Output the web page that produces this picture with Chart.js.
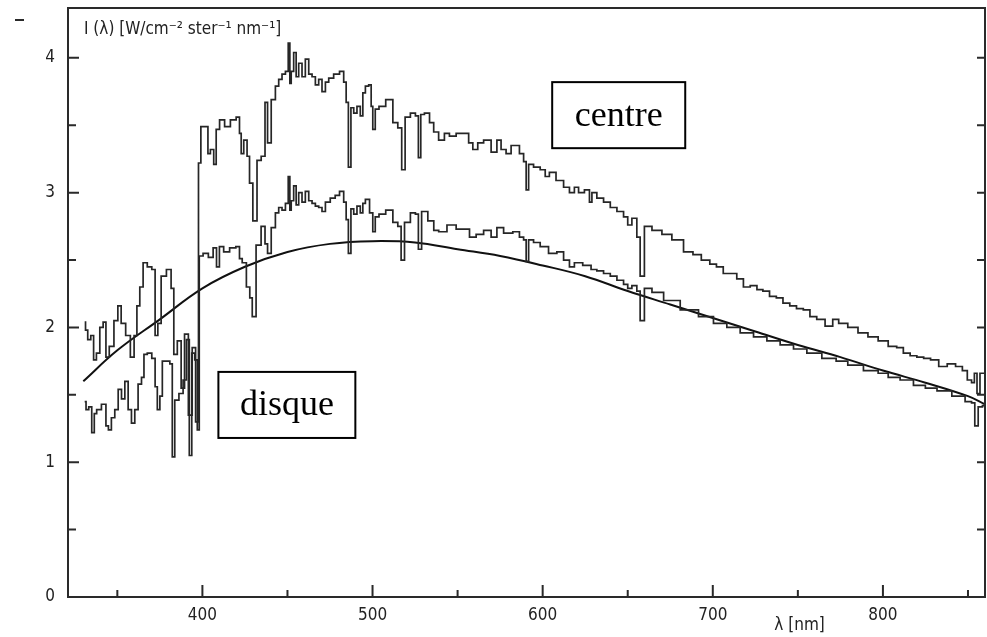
<!DOCTYPE html>
<html>
<head>
<meta charset="utf-8">
<script src="https://cdn.jsdelivr.net/npm/chart.js@4.4.1/dist/chart.umd.min.js"></script>
<style>
  html, body { margin: 0; padding: 0; background: #fff; }
  #wrap { position: relative; width: 987px; height: 637px; }
</style>
</head>
<body>
<div id="wrap"><canvas id="spectrum"></canvas></div>
<script>
// Wavelengths (nm) and intensities
const centreNm = [330.8, 331.8, 333.4, 335.4, 336.7, 338.7, 340.7, 342.6, 344.0, 346.5, 349.5, 351.1, 353.4, 356.4, 358.9, 360.8, 362.2, 364.2, 366.1, 369.1, 371.4, 373.0, 374.6, 376.9, 380.8, 382.4, 384.0, 386.5, 388.5, 390.5, 393.0, 395.0, 397.0,
  398.4, 399.8, 402.8, 403.7, 405.7, 407.6, 408.6, 411.6, 414.5, 418.4, 421.3, 422.3, 423.3, 425.3, 427.2, 428.2, 431.1, 433.1, 436.0, 437.6, 439.0, 441.9, 443.9, 445.8, 447.8, 449.8,
  451.1, 451.7, 452.7, 454.6, 455.6, 457.6, 459.5, 461.5, 463.5, 465.4, 467.4, 469.3, 471.3, 473.3, 475.2, 479.1, 482.1, 484.0, 485.0, 486.6, 488.0, 489.9, 491.8, 493.8, 494.8, 496.8, 498.7, 499.7,
  500.6, 502.6, 505.0, 510.5, 513.4, 516.3, 518.0, 520.3, 524.2, 526.2, 527.7, 529.0, 532.0, 535.0, 536.9, 540.8, 543.7, 546.7, 551.6, 555.5, 557.5, 560.4, 563.3, 567.3, 572.1, 574.1, 577.0,
  580.0, 582.9, 584.9, 587.8, 589.8, 590.8, 592.7, 596.6, 600.5, 602.5, 605.4, 610.3, 614.3, 617.2, 620.1, 622.1, 627.0, 628.0, 629.9, 633.8, 637.8, 641.7, 645.6, 649.5, 650.5, 654.4, 656.3, 658.3,
  661.3, 667.2, 673.0, 678.9, 686.7, 690.0, 696.5, 700.0, 704.3, 708.0, 712.2, 716.0, 720.0, 724.0, 727.9, 731.0, 735.7, 739.0, 743.5, 747.0, 751.4, 755.0, 759.2, 763.0, 769.0, 772.0, 776.0,
  782.7, 788.0, 794.4, 800.0, 806.2, 810.0, 814.0, 818.0, 821.9, 826.0, 830.0, 835.6, 840.0, 845.4, 848.0, 851.2, 853.0, 854.5, 856.1, 858.0, 860.0];
const centreI = [2.04, 1.98, 1.91, 1.94, 1.76, 1.81, 2.00, 2.04, 1.78, 1.86, 2.05, 2.16, 2.03, 1.94, 1.78, 1.94, 2.16, 2.30, 2.48, 2.45, 2.43, 1.94, 2.03, 2.38, 2.43, 2.29, 1.80, 1.90, 1.55, 1.95, 1.35, 1.85, 1.30,
  3.22, 3.49, 3.49, 3.29, 3.32, 3.21, 3.47, 3.54, 3.49, 3.54, 3.56, 3.44, 3.29, 3.39, 3.27, 3.07, 2.79, 3.24, 3.27, 3.67, 3.37, 3.69, 3.79, 3.84, 3.88, 3.90,
  4.11, 3.81, 3.90, 4.04, 3.86, 3.96, 3.86, 3.99, 3.88, 3.86, 3.80, 3.84, 3.75, 3.82, 3.85, 3.88, 3.90, 3.82, 3.67, 3.19, 3.63, 3.59, 3.64, 3.57, 3.74, 3.79, 3.80, 3.64,
  3.47, 3.62, 3.64, 3.69, 3.52, 3.48, 3.17, 3.56, 3.59, 3.57, 3.26, 3.58, 3.59, 3.52, 3.45, 3.39, 3.44, 3.42, 3.44, 3.44, 3.37, 3.32, 3.37, 3.39, 3.30, 3.39, 3.32,
  3.29, 3.35, 3.35, 3.29, 3.23, 3.02, 3.21, 3.19, 3.17, 3.12, 3.15, 3.09, 3.04, 3.00, 3.04, 3.00, 3.02, 2.93, 3.00, 2.96, 2.93, 2.89, 2.86, 2.82, 2.76, 2.81, 2.67, 2.38,
  2.75, 2.72, 2.69, 2.65, 2.56, 2.54, 2.50, 2.47, 2.45, 2.40, 2.40, 2.36, 2.30, 2.31, 2.28, 2.27, 2.23, 2.22, 2.18, 2.16, 2.14, 2.13, 2.08, 2.06, 2.01, 2.06, 2.03,
  2.00, 1.96, 1.93, 1.90, 1.86, 1.85, 1.81, 1.79, 1.78, 1.77, 1.76, 1.71, 1.73, 1.71, 1.68, 1.61, 1.59, 1.66, 1.51, 1.66, 1.66];

const disqueNm = [330.8, 332.4, 334.0, 335.9, 337.0, 338.7, 342.6, 344.0, 345.5, 347.5, 349.5, 351.5, 353.4, 355.4, 357.3, 359.3, 361.2, 363.2, 365.2, 366.1, 369.1, 371.4, 373.0, 374.0, 376.0, 376.9, 379.9, 381.8,
  382.8, 384.7, 387.7, 389.6, 391.6, 393.0, 394.5, 396.5, 397.5,
  398.8, 402.0, 405.0, 407.6, 409.0, 411.0, 414.0, 418.0, 421.3, 422.3, 424.5, 427.2, 428.5, 430.1, 433.0, 436.0, 437.6, 439.0, 441.9, 443.9, 445.8, 447.8, 449.8,
  451.1, 451.7, 452.7, 454.6, 455.6, 457.6, 459.5, 461.5, 463.5, 465.4, 467.4, 469.3, 471.3, 473.3, 477.0, 479.1, 482.1, 484.0, 485.0, 486.6, 488.0, 489.9, 491.8, 493.8, 494.8, 496.8, 499.7,
  500.6, 502.6, 505.0, 510.5, 513.4, 516.3, 517.3, 520.3, 524.2, 526.2, 527.7, 530.0, 535.0, 537.0, 540.8, 546.7, 551.6, 555.5, 558.5, 563.3, 567.3, 572.1, 574.1,
  580.0, 584.9, 587.8, 589.8, 590.8, 592.7, 596.6, 600.5, 606.4, 610.3, 614.3, 617.2, 620.1, 627.0, 629.9, 633.8, 637.8, 641.7, 645.6, 649.5, 650.5, 654.4, 656.3, 658.3,
  661.3, 667.2, 675.0, 686.7, 696.5, 704.3, 712.2, 720.0, 727.9, 735.7, 743.5, 751.4, 759.2, 769.0, 776.0, 782.7, 794.4, 800.0, 806.2, 814.0, 821.9, 828.0, 835.6, 845.4, 851.2, 853.0, 855.0, 857.0, 860.0];
const disqueI = [1.45, 1.39, 1.41, 1.22, 1.36, 1.39, 1.43, 1.27, 1.24, 1.33, 1.39, 1.54, 1.47, 1.60, 1.39, 1.29, 1.39, 1.58, 1.63, 1.80, 1.81, 1.77, 1.56, 1.39, 1.49, 1.75, 1.75, 1.73,
  1.04, 1.46, 1.51, 1.61, 1.91, 1.05, 1.81, 1.76, 1.24,
  2.53, 2.55, 2.52, 2.59, 2.45, 2.60, 2.56, 2.59, 2.60, 2.51, 2.48, 2.30, 2.22, 2.08, 2.61, 2.75, 2.62, 2.55, 2.74, 2.85, 2.89, 2.87, 2.92,
  3.12, 2.87, 2.94, 3.05, 2.91, 3.00, 2.93, 3.01, 2.94, 2.92, 2.90, 2.89, 2.86, 2.93, 2.96, 2.98, 3.01, 2.93, 2.80, 2.55, 2.88, 2.84, 2.90, 2.85, 2.92, 2.95, 2.85,
  2.71, 2.82, 2.84, 2.87, 2.78, 2.75, 2.50, 2.78, 2.85, 2.84, 2.58, 2.86, 2.79, 2.72, 2.71, 2.76, 2.73, 2.73, 2.67, 2.69, 2.72, 2.67, 2.74,
  2.70, 2.71, 2.67, 2.65, 2.49, 2.65, 2.63, 2.60, 2.55, 2.56, 2.50, 2.45, 2.48, 2.46, 2.43, 2.42, 2.40, 2.38, 2.35, 2.32, 2.29, 2.31, 2.27, 2.05,
  2.29, 2.26, 2.20, 2.13, 2.08, 2.03, 2.00, 1.96, 1.93, 1.90, 1.87, 1.84, 1.81, 1.77, 1.75, 1.72, 1.68, 1.66, 1.63, 1.61, 1.57, 1.55, 1.53, 1.49, 1.45, 1.44, 1.27, 1.41, 1.42];

const fitNm = [330, 350, 375, 400, 425, 450, 475, 500, 525, 550, 575, 600, 625, 650, 675, 700, 725, 750, 775, 800, 825, 850, 860];
const fitI = [1.60, 1.83, 2.06, 2.29, 2.45, 2.56, 2.62, 2.64, 2.63, 2.58, 2.53, 2.46, 2.38, 2.27, 2.17, 2.07, 1.97, 1.87, 1.78, 1.68, 1.59, 1.49, 1.43];

const xTicks = [400, 500, 600, 700, 800];
const yTicks = [0, 1, 2, 3, 4];
const xMinor = [350, 450, 550, 650, 750, 850];
const yMinor = [0.5, 1.5, 2.5, 3.5];

const ink = '#262626';
const tickFont = { family: "'DejaVu Sans Condensed', 'Liberation Sans Narrow', sans-serif", size: 17 };

function pairs(xs, ys) {
    return xs.map((x, i) => ({ x: x, y: ys[i] }));
}

// Frame, inward tick marks, axis titles and the two boxed labels
const decorations = {
    id: 'decorations',
    afterDraw(chart) {
        const ctx = chart.ctx;
        const a = chart.chartArea;
        const xs = chart.scales.x;
        const ys = chart.scales.y;
        ctx.save();
        ctx.strokeStyle = '#2a2a2a';
        ctx.lineWidth = 2;
        ctx.strokeRect(a.left, a.top, a.right - a.left, a.bottom - a.top);

        ctx.lineWidth = 1.5;
        ctx.beginPath();
        xTicks.forEach(v => { const p = xs.getPixelForValue(v); ctx.moveTo(p, a.bottom); ctx.lineTo(p, a.bottom - 12); });
        xMinor.forEach(v => { const p = xs.getPixelForValue(v); ctx.moveTo(p, a.bottom); ctx.lineTo(p, a.bottom - 7); });
        yTicks.forEach(v => { const p = ys.getPixelForValue(v); ctx.moveTo(a.left, p); ctx.lineTo(a.left + 11, p); });
        yMinor.forEach(v => { const p = ys.getPixelForValue(v); ctx.moveTo(a.left, p); ctx.lineTo(a.left + 8, p); });
        yTicks.concat(yMinor).forEach(v => { const p = ys.getPixelForValue(v); ctx.moveTo(a.right, p); ctx.lineTo(a.right - 8, p); });
        // the small stray dash at the top left corner
        ctx.moveTo(15, 20);
        ctx.lineTo(24, 20);
        ctx.lineWidth = 2;
        ctx.stroke();

        // axis titles
        ctx.fillStyle = '#222';
        ctx.font = "17px 'DejaVu Sans Condensed', sans-serif";
        ctx.textBaseline = 'middle';
        ctx.textAlign = 'left';
        ctx.fillText('I (λ) [W/cm⁻² ster⁻¹ nm⁻¹]', a.left + 16, a.top + 22);
        ctx.textAlign = 'center';
        ctx.fillText('λ [nm]', xs.getPixelForValue(751), a.bottom + 29);

        // boxed labels
        const boxes = [
            { text: 'centre', x0: 605.6, x1: 683.8, y0: 3.82, y1: 3.33 },
            { text: 'disque', x0: 409.4, x1: 489.9, y0: 1.67, y1: 1.18 }
        ];
        ctx.font = "36px 'Liberation Serif', 'Times New Roman', serif";
        ctx.lineWidth = 2;
        ctx.strokeStyle = '#000';
        boxes.forEach(b => {
            const l = xs.getPixelForValue(b.x0), r = xs.getPixelForValue(b.x1);
            const t = ys.getPixelForValue(b.y0), btm = ys.getPixelForValue(b.y1);
            ctx.fillStyle = '#fff';
            ctx.fillRect(l, t, r - l, btm - t);
            ctx.strokeRect(l, t, r - l, btm - t);
            ctx.fillStyle = '#000';
            ctx.fillText(b.text, (l + r) / 2, (t + btm) / 2 + 1);
        });
        ctx.restore();
    }
};

new Chart(document.getElementById('spectrum'), {
    type: 'line',
    data: {
        datasets: [
            {
                label: 'centre',
                data: pairs(centreNm, centreI),
                borderColor: ink,
                borderWidth: 1.7,
                stepped: 'middle',
                pointRadius: 0
            },
            {
                label: 'disque',
                data: pairs(disqueNm, disqueI),
                borderColor: ink,
                borderWidth: 1.7,
                stepped: 'middle',
                pointRadius: 0
            },
            {
                label: 'corps noir',
                data: pairs(fitNm, fitI),
                borderColor: '#111',
                borderWidth: 2,
                tension: 0.4,
                pointRadius: 0
            }
        ]
    },
    options: {
        responsive: true,
        maintainAspectRatio: false,
        animation: false,
        devicePixelRatio: 1,
        layout: { padding: { left: 0, right: 2, top: 8, bottom: 0 } },
        plugins: {
            legend: { display: false },
            tooltip: { enabled: false }
        },
        scales: {
            x: {
                type: 'linear',
                min: 321,
                max: 860,
                grid: { display: false, drawTicks: false },
                border: { display: false },
                ticks: { font: tickFont, color: '#222', padding: 8, maxRotation: 0 },
                afterBuildTicks: s => { s.ticks = xTicks.map(v => ({ value: v })); },
                afterFit: s => { s.height = 40; s.paddingLeft = 0; s.paddingRight = 0; }
            },
            y: {
                min: 0,
                max: 4.37,
                grid: { display: false, drawTicks: false },
                border: { display: false },
                ticks: { font: tickFont, color: '#222', padding: 13 },
                afterBuildTicks: s => { s.ticks = yTicks.map(v => ({ value: v })); },
                afterFit: s => { s.width = 68; s.paddingTop = 0; s.paddingBottom = 0; }
            }
        }
    },
    plugins: [decorations]
});
</script>
</body>
</html>
